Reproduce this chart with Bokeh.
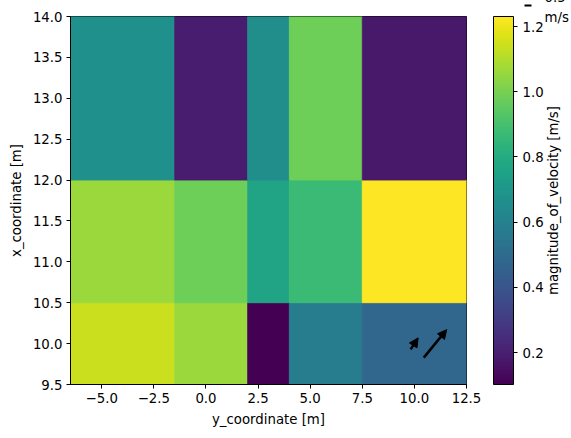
import numpy as np
from bokeh.plotting import figure
from bokeh.models import (ColumnDataSource, LinearColorMapper, ColorBar, FixedTicker,
                          CustomJSTickFormatter, Label, Arrow, NormalHead, Range1d)
from bokeh.palettes import Viridis256
from bokeh.transform import transform
from bokeh.embed import file_html
from bokeh.resources import INLINE

# ---- data ----
y_coordinate = [-4.0, 1.0, 3.0, 5.0, 10.0]      # horizontal cell centres [m]
x_coordinate = [10.0, 11.0, 13.0]               # vertical cell centres [m]
magnitude_of_velocity = [                        # rows follow x_coordinate
    [1.14, 1.06, 0.102, 0.576, 0.475],
    [1.06, 0.98, 0.76, 0.87, 1.231],
    [0.67, 0.19, 0.66, 0.98, 0.18],
]
# quiver arrows (centre position and vector in plot units)
quiver_x = [10.0, 11.0]
quiver_y = [10.0, 10.0]
quiver_u = [0.36, 1.10]
quiver_v = [0.14, 0.342]
x_ticks = [-5.0, -2.5, 0.0, 2.5, 5.0, 7.5, 10.0, 12.5]
y_ticks = [9.5, 10.0, 10.5, 11.0, 11.5, 12.0, 12.5, 13.0, 13.5, 14.0]
cbar_ticks = [0.2, 0.4, 0.6, 0.8, 1.0, 1.2]


def edges(c):
    c = np.asarray(c, dtype=float)
    mid = (c[:-1] + c[1:]) / 2
    return np.concatenate([[c[0] - (c[1] - c[0]) / 2], mid, [c[-1] + (c[-1] - c[-2]) / 2]])


xe = edges(y_coordinate)
ye = edges(x_coordinate)

left, right, bottom, top, val = [], [], [], [], []
for j in range(len(x_coordinate)):
    for i in range(len(y_coordinate)):
        left.append(xe[i]); right.append(xe[i + 1])
        bottom.append(ye[j]); top.append(ye[j + 1])
        val.append(magnitude_of_velocity[j][i])
src = ColumnDataSource(dict(left=left, right=right, bottom=bottom, top=top, val=val))

vals = np.array(magnitude_of_velocity)
mapper = LinearColorMapper(palette=Viridis256, low=float(vals.min()), high=float(vals.max()))

FONT = "DejaVu Sans"
FS = "13.3px"

p = figure(frame_width=396, frame_height=368,
           x_range=Range1d(xe[0], xe[-1]), y_range=Range1d(ye[0], ye[-1]),
           output_backend="svg", toolbar_location=None,
           min_border_left=70, min_border_right=105, min_border_top=16, min_border_bottom=54)
p.background_fill_color = "white"
p.border_fill_color = "white"
p.outline_line_color = "black"
p.outline_line_width = 1
p.grid.visible = False

p.quad(left="left", right="right", bottom="bottom", top="top", source=src,
       fill_color=transform("val", mapper), line_color=transform("val", mapper), line_width=0.8)

minus_fmt = CustomJSTickFormatter(code="return tick.toFixed(1).replace('-', '\u2212');")
for ax, ticks, lab in ((p.xaxis[0], x_ticks, "y_coordinate [m]"), (p.yaxis[0], y_ticks, "x_coordinate [m]")):
    ax.ticker = FixedTicker(ticks=ticks)
    ax.formatter = minus_fmt
    ax.axis_label = lab
    ax.axis_label_text_font = FONT
    ax.axis_label_text_font_size = FS
    ax.axis_label_text_font_style = "normal"
    ax.axis_label_text_color = "black"
    ax.major_label_text_font = FONT
    ax.major_label_text_font_size = FS
    ax.major_label_text_color = "black"
    ax.major_tick_in = 0
    ax.major_tick_out = 4
    ax.minor_tick_out = 0
    ax.minor_tick_in = 0
    ax.axis_line_color = "black"
    ax.major_tick_line_color = "black"
    ax.major_label_standoff = 4
    ax.axis_label_standoff = 6

# quiver arrows, pivot at middle
qsrc = ColumnDataSource(dict(
    xs=[x - u / 2 for x, u in zip(quiver_x, quiver_u)],
    ys=[y - v / 2 for y, v in zip(quiver_y, quiver_v)],
    xe=[x + u / 2 for x, u in zip(quiver_x, quiver_u)],
    ye=[y + v / 2 for y, v in zip(quiver_y, quiver_v)],
))
p.add_layout(Arrow(x_start="xs", y_start="ys", x_end="xe", y_end="ye", source=qsrc,
                   line_width=2.5, line_color="black",
                   end=NormalHead(size=9, fill_color="black", line_color="black", line_width=1)))

cb = ColorBar(color_mapper=mapper, width=20, height=368, location=(27, 0),
              ticker=FixedTicker(ticks=cbar_ticks),
              formatter=CustomJSTickFormatter(code="return tick.toFixed(1);"),
              major_label_text_font=FONT, major_label_text_font_size=FS,
              major_label_text_color="black",
              major_tick_in=0, major_tick_out=4, major_tick_line_color="black",
              minor_tick_in=0, minor_tick_out=0,
              bar_line_color="black", bar_line_width=1,
              label_standoff=5, margin=0, padding=0,
              background_fill_alpha=0, border_line_color=None)
p.add_layout(cb, "right")

# colour-bar label and quiver key (0.5 m/s), placed in the right panel in canvas pixels
p.add_layout(Label(x=553, y=200, x_units="canvas", y_units="canvas",
                   text="magnitude_of_velocity [m/s]", angle=np.pi / 2,
                   text_font=FONT, text_font_size=FS, text_color="black",
                   text_align="center", text_baseline="middle"), "right")
p.add_layout(Arrow(x_start=518, y_start=5, x_end=531, y_end=5,
                   start_units="canvas", end_units="canvas",
                   line_width=1.8, line_color="black",
                   end=NormalHead(size=7, fill_color="black", line_color="black", line_width=1)), "right")
p.add_layout(Label(x=544, y=-4, x_units="canvas", y_units="canvas", text="0.5",
                   text_font=FONT, text_font_size=FS, text_color="black",
                   text_baseline="middle", text_align="left"), "right")
p.add_layout(Label(x=544, y=17, x_units="canvas", y_units="canvas", text="m/s",
                   text_font=FONT, text_font_size=FS, text_color="black",
                   text_baseline="middle", text_align="left"), "right")

open("out.html", "w").write(file_html(p, INLINE))
